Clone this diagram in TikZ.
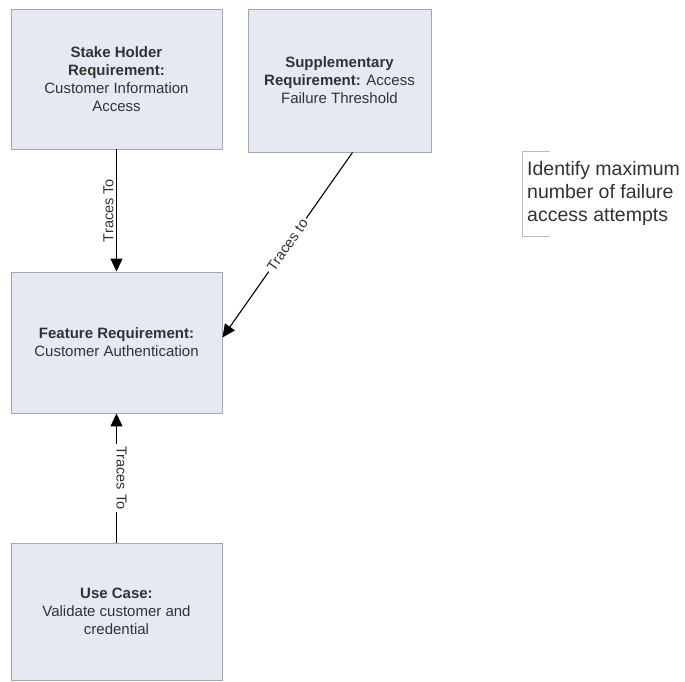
\documentclass[tikz,border=0pt]{standalone}
\usepackage{fontspec}
\setmainfont{Liberation Sans}
\usetikzlibrary{arrows.meta,positioning,calc}
\definecolor{boxfill}{RGB}{229,234,242}
\definecolor{boxline}{RGB}{165,168,172}
\definecolor{txt}{RGB}{50,50,50}

\begin{document}
\begin{tikzpicture}[
  x=1pt, y=-1pt,
  font=\fontsize{15}{18}\selectfont,
  >={Triangle[length=13pt,width=12pt]},
  req/.style  = {draw=boxline, line width=0.9pt, fill=boxfill, text=txt,
                 align=center, inner sep=0pt},
  trc/.style  = {line width=1.1pt, ->},
  lbl/.style  = {font=\fontsize{14.5}{17}\selectfont, fill=white,
                 inner sep=2.5pt, text=txt},
  brk/.style  = {line width=0.8pt, gray!55},
]

\def\bW{211} \def\sW{183}
\def\xL{116.5}

\useasboundingbox (0,0) rectangle (685,682);

% requirement boxes
\node[req, minimum width=\bW pt, minimum height=140pt] (stake) at (\xL,79)
  {\textbf{Stake Holder}\\ \textbf{Requirement:}\\ Customer Information\\ Access};
\node[req, minimum width=\sW pt, minimum height=143pt] (supp) at (339.5,80.5)
  {\textbf{Supplementary}\\ \textbf{Requirement:} Access\\ Failure Threshold};
\node[req, minimum width=\bW pt, minimum height=141pt] (feat) at (\xL,342.5)
  {\textbf{Feature Requirement:}\\ Customer Authentication};
\node[req, minimum width=\bW pt, minimum height=137pt] (uc) at (\xL,611.5)
  {\textbf{Use Case:}\\ Validate customer and\\ credential};

% note
\node[font=\fontsize{19.5}{23}\selectfont, align=left, anchor=west,
      text=txt, inner sep=0pt] (note) at (527,193)
  {Identify maximum\\ number of failure\\ access attempts};
\draw[brk]
  ($(note.north west)+(23,-9)$) -- ($(note.north west)+(-5,-9)$) --
  ($(note.south west)+(-5,11)$) -- ($(note.south west)+(23,11)$);

% traces
\draw[trc] (stake.south) -- (feat.north)
  node[lbl, midway, xshift=-8pt, rotate=90] {Traces To};
\draw[trc] ([xshift=13pt]supp.south) -- ([yshift=5pt]feat.east)
  node[lbl, midway, sloped] {Traces to};
\draw[trc] (uc.north) -- (feat.south)
  node[lbl, midway, xshift=5pt, rotate=-90] {Traces To};

\end{tikzpicture}
\end{document}
